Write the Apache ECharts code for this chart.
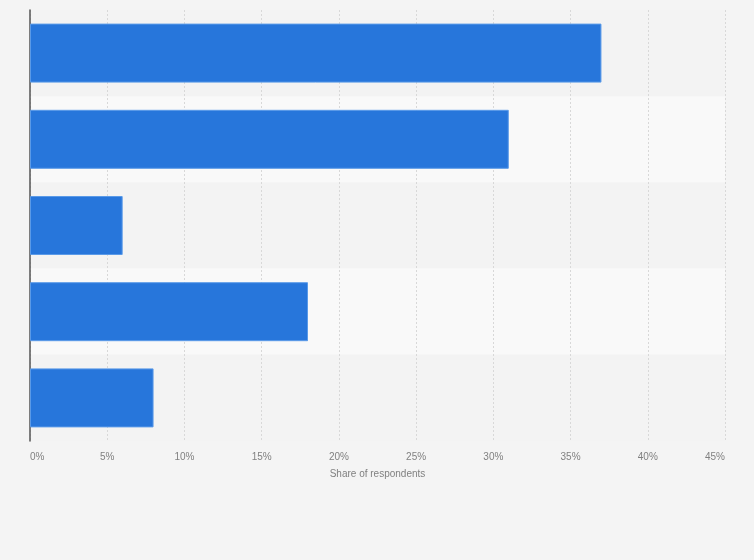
<!DOCTYPE html>
<html>
<head>
<meta charset="utf-8">
<script src="https://cdn.jsdelivr.net/npm/echarts@6/dist/echarts.min.js"></script>
<style>
  html, body { margin: 0; padding: 0; background: #f4f4f4; }
  #chart { width: 754px; height: 560px; }
</style>
</head>
<body>
<div id="chart"></div>
<script>
// categories (labels are not shown in the picture), top to bottom
var categories = ['Answer 1', 'Answer 2', 'Answer 3', 'Answer 4', 'Answer 5'];
var shares = [37, 31, 6, 18, 8];
var axisMax = 45;
var axisStep = 5;

var chart = echarts.init(document.getElementById('chart'));
var option = {
    backgroundColor: '#f4f4f4',
    grid: {
        left: 30,
        right: 29,
        top: 10,
        bottom: 119
    },
    xAxis: {
        type: 'value',
        min: 0,
        max: axisMax,
        interval: axisStep,
        name: 'Share of respondents',
        nameLocation: 'middle',
        nameGap: 28,
        nameTextStyle: {
            color: '#808080',
            fontSize: 10,
            fontFamily: 'Arial, Liberation Sans, sans-serif'
        },
        axisLine: { show: false },
        axisTick: { show: false },
        axisLabel: {
            formatter: '{value}%',
            color: '#808080',
            fontSize: 10,
            margin: 11,
            fontFamily: 'Arial, Liberation Sans, sans-serif',
            alignMinLabel: 'left',
            alignMaxLabel: 'right'
        },
        splitLine: {
            show: true,
            lineStyle: { color: '#d8d8d8', type: [2, 2], width: 1 }
        }
    },
    yAxis: {
        type: 'category',
        data: categories,
        inverse: true,
        axisLine: {
            show: true,
            lineStyle: { color: '#555', width: 1.5 }
        },
        axisTick: { show: false },
        axisLabel: { show: false },
        splitArea: {
            show: true,
            areaStyle: { color: ['#f3f3f3', '#f9f9f9'] }
        }
    },
    series: [
        {
            type: 'bar',
            data: shares,
            barWidth: 59,
            itemStyle: {
                color: '#2776db',
                borderColor: '#5a9ae8',
                borderWidth: 1
            },
            silent: true
        }
    ]
};
chart.setOption(option);
</script>
</body>
</html>
